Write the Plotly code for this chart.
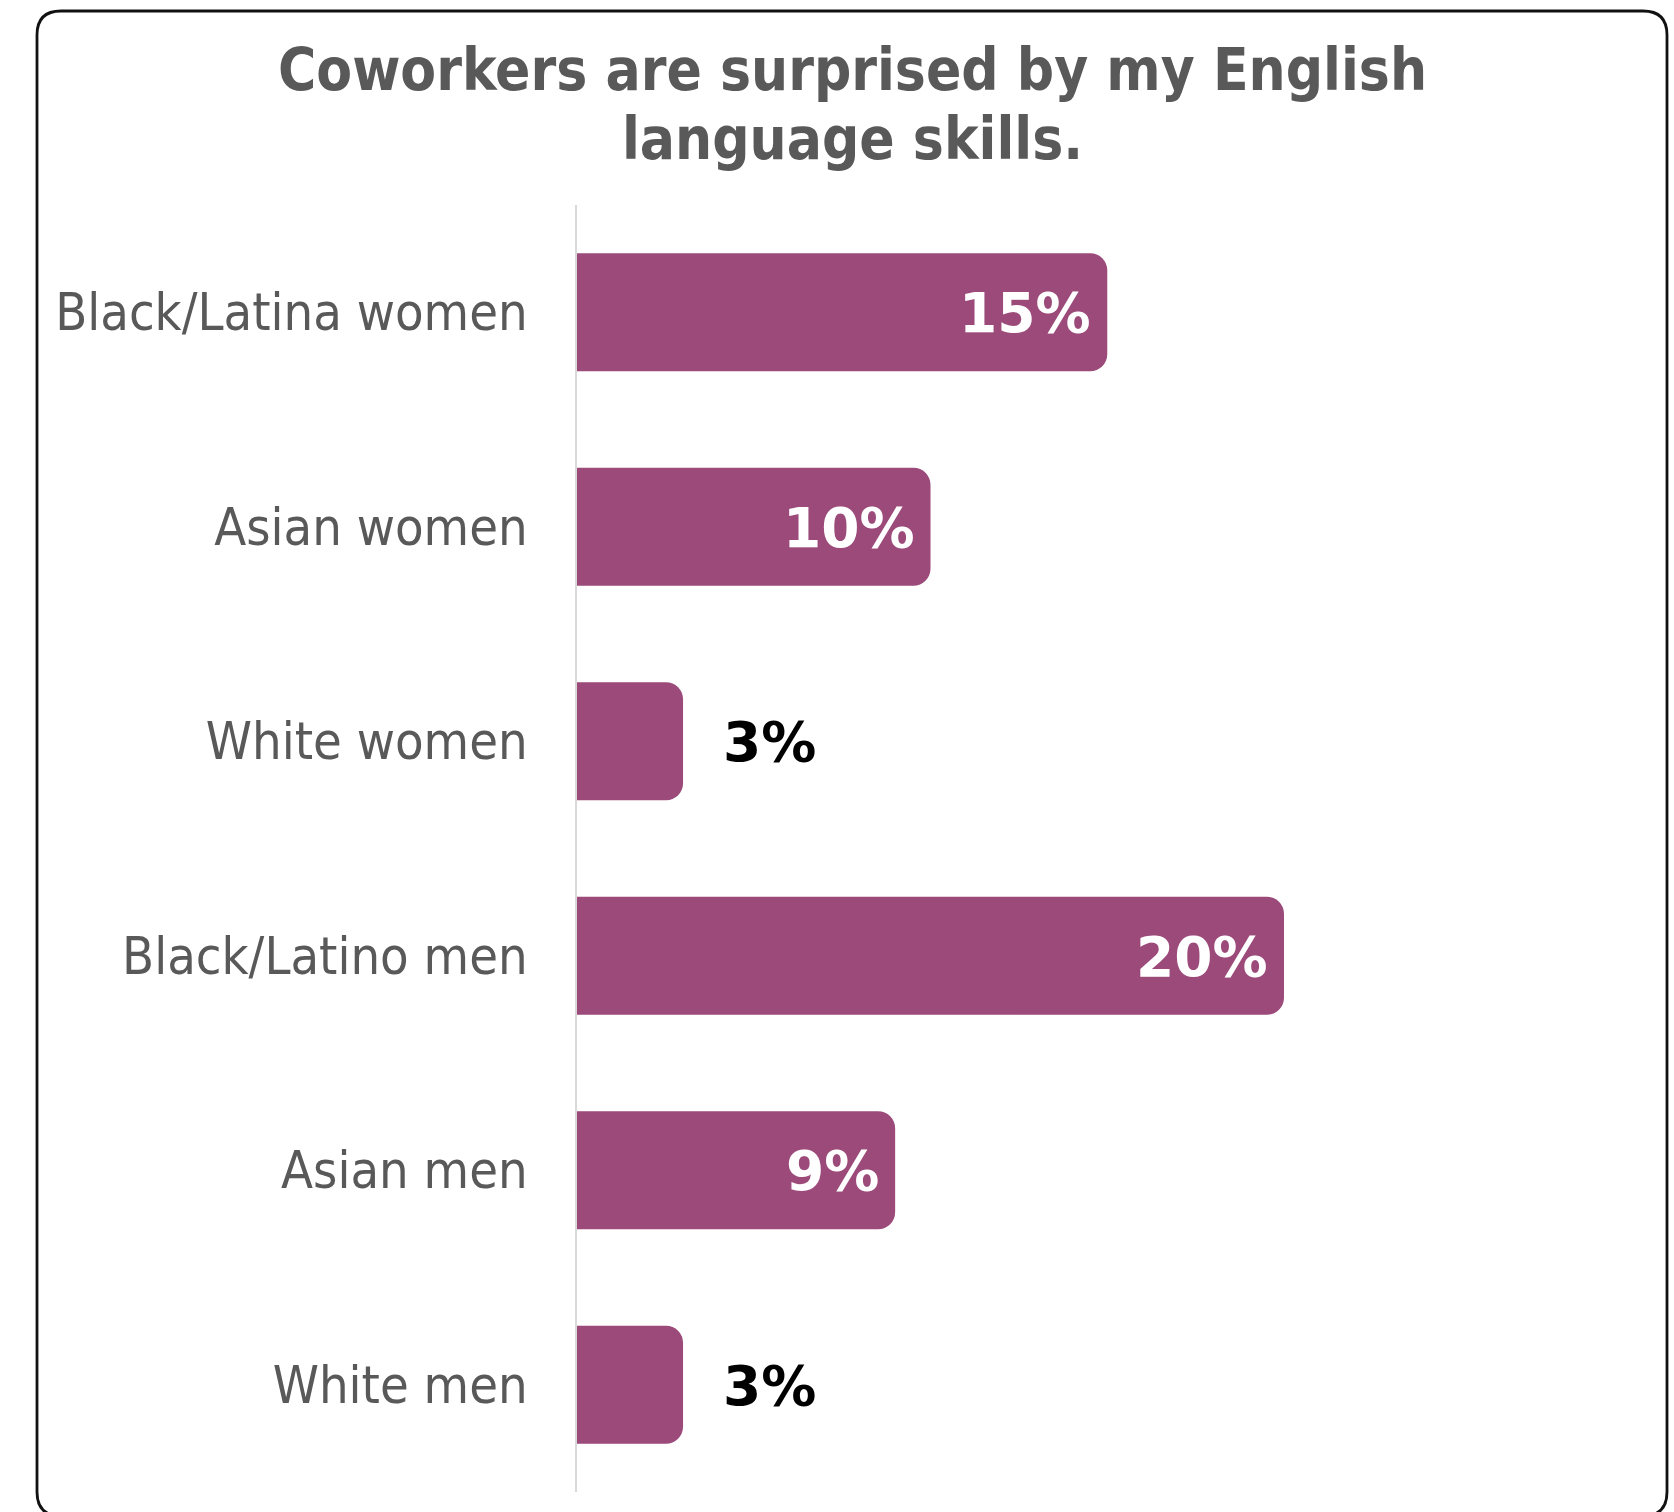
import plotly.graph_objects as go

# Survey results: share answering "yes"
categories = [
    "Black/Latina women",
    "Asian women",
    "White women",
    "Black/Latino men",
    "Asian men",
    "White men",
]
values = [15, 10, 3, 20, 9, 3]
value_labels = ["15%", "10%", "3%", "20%", "9%", "3%"]

title_lines = ["Coworkers are surprised by my English", "language skills."]

BAR_COLOR = "#9B4A7A"
TEXT_GRAY = "#595959"
LABEL_FONT = "DejaVu Sans Condensed, DejaVu Sans, sans-serif"
VALUE_FONT = "DejaVu Sans, sans-serif"

W, H = 1674, 1512
ML, MR, MT, MB = 577, 54, 205, 20
PW, PH = W - ML - MR, H - MT - MB
X_MAX = PW / 35.35  # 35.35 px per percentage point

fig = go.Figure(
    go.Bar(
        x=values,
        y=categories,
        orientation="h",
        marker=dict(color=BAR_COLOR, cornerradius=17, line=dict(width=0)),
        hoverinfo="skip",
    )
)

# Value labels: inside the bar end for long bars, to the right for short ones
annotations = []
for cat, val, lab in zip(categories, values, value_labels):
    inside = val >= 5
    annotations.append(
        dict(
            x=val,
            y=cat,
            xref="x",
            yref="y",
            text=lab,
            showarrow=False,
            xanchor="right" if inside else "left",
            xshift=-14 if inside else 38,
            yshift=-1,
            font=dict(family=VALUE_FONT, size=55, color="white" if inside else "black", weight="bold"),
        )
    )

# Two-line centred title
def px_to_paper_x(px):
    return (px - ML) / PW


def px_to_paper_y(py):
    return (H - MB - py) / PH


title_cx = px_to_paper_x(852)
for line, cy in zip(title_lines, [70, 139]):
    annotations.append(
        dict(
            x=title_cx,
            y=px_to_paper_y(cy),
            xref="paper",
            yref="paper",
            text=line,
            showarrow=False,
            xanchor="center",
            yanchor="middle",
            font=dict(family=LABEL_FONT, size=58, color=TEXT_GRAY, weight="bold"),
        )
    )

# Rounded outer frame
fl, fr, ft, fb, r = 37, 1667, 11, 1516, 24
X = px_to_paper_x
Y = px_to_paper_y
frame_path = (
    f"M {X(fl + r)},{Y(ft)} L {X(fr - r)},{Y(ft)} "
    f"Q {X(fr)},{Y(ft)} {X(fr)},{Y(ft + r)} "
    f"L {X(fr)},{Y(fb - r)} Q {X(fr)},{Y(fb)} {X(fr - r)},{Y(fb)} "
    f"L {X(fl + r)},{Y(fb)} Q {X(fl)},{Y(fb)} {X(fl)},{Y(fb - r)} "
    f"L {X(fl)},{Y(ft + r)} Q {X(fl)},{Y(ft)} {X(fl + r)},{Y(ft)} Z"
)

fig.update_layout(
    width=W,
    height=H,
    margin=dict(l=ML, r=MR, t=MT, b=MB, pad=0),
    paper_bgcolor="white",
    plot_bgcolor="white",
    showlegend=False,
    bargap=0.45,
    annotations=annotations,
    shapes=[
        dict(
            type="path",
            path=frame_path,
            xref="paper",
            yref="paper",
            line=dict(color="#111111", width=2.8),
            fillcolor="rgba(0,0,0,0)",
            layer="above",
        )
    ],
    xaxis=dict(
        range=[0, X_MAX],
        visible=False,
        showgrid=False,
        zeroline=False,
        fixedrange=True,
    ),
    yaxis=dict(
        type="category",
        categoryorder="array",
        categoryarray=categories,
        range=[5.5, -0.5],
        showgrid=False,
        zeroline=False,
        showline=True,
        linecolor="#D9D9D9",
        linewidth=2,
        ticks="",
        ticklabelstandoff=37,
        tickfont=dict(family=LABEL_FONT, size=52, color=TEXT_GRAY),
        fixedrange=True,
    ),
)

fig.write_html("out.html", config={"displayModeBar": False})
